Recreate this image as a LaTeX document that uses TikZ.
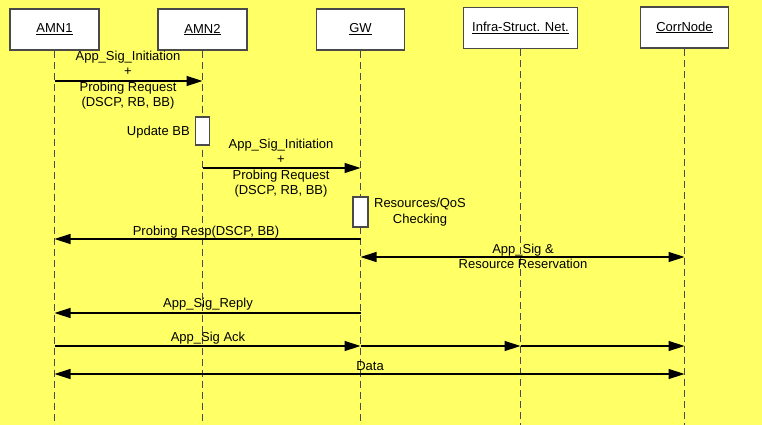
\documentclass[tikz,border=0pt]{standalone}
\usepackage{fontspec}
\setmainfont{Liberation Sans}
\usetikzlibrary{arrows.meta}
\definecolor{bgyellow}{HTML}{FFFF66}
\definecolor{framegray}{HTML}{4A4A4A}
\begin{document}
\begin{tikzpicture}[x=1pt,y=-1pt,
  font=\fontsize{13}{15.5}\selectfont,
  actor/.style={draw=framegray, line width=1.3pt, fill=white, minimum height=41pt, inner sep=0pt},
  lifeline/.style={draw=framegray, line width=1pt, dash pattern=on 7pt off 4pt},
  actbox/.style={draw=framegray, line width=1.2pt, fill=white, inner sep=0pt},
  msg/.style={draw=black, line width=1.4pt, -{Triangle[length=16pt,width=10pt]}},
  dmsg/.style={draw=black, line width=1.4pt, {Triangle[length=16pt,width=10pt]}-{Triangle[length=16pt,width=10pt]}},
  lbl/.style={inner sep=0pt, align=center}]
% background
\fill[bgyellow] (0,0) rectangle (762,425);
\useasboundingbox (0,0) rectangle (762,425);

% participants
\node[actor, minimum width=89pt]  (amn1)  at (54.5,29.5) {\underline{AMN1}};
\node[actor, minimum width=89pt]  (amn2)  at (202.5,29.5) {\underline{AMN2}};
\node[actor, minimum width=88pt]  (gw)    at (360.5,29.5) {\underline{GW}};
\node[actor, minimum width=114pt] (infra) at (520.5,28) {\underline{Infra-Struct. Net.}};
\node[actor, minimum width=88pt]  (corr)  at (684.5,27.5) {\underline{CorrNode}};

% lifelines
\coordinate (bottom) at (0,425);
\foreach \p in {amn1,amn2,gw,infra,corr}
  \draw[lifeline] (\p.south) -- (\p.south |- bottom);

% message rows
\coordinate (r1) at (0,81);
\coordinate (r2) at (0,168);
\coordinate (r3) at (0,239);
\coordinate (r4) at (0,257);
\coordinate (r5) at (0,313);
\coordinate (r6) at (0,346);
\coordinate (r7) at (0,374);

% activation boxes
\node[actbox, minimum width=14pt, minimum height=28pt] (upd) at (202.5,131) {};
\node[anchor=east, inner sep=0pt] (updl) at (190,132) {Update BB};
\node[actbox, minimum width=15pt, minimum height=30pt] (chk) at (360.5,212) {};
\node[lbl] (chkl) at (420,212) {Resources/QoS\\Checking};

% messages
\draw[msg] (amn1 |- r1) -- (amn2 |- r1);
\node[lbl] (m1) at (128,80) {App\_Sig\_Initiation\\+\\Probing Request\\(DSCP, RB, BB)};

\draw[msg] (amn2 |- r2) -- (gw |- r2);
\node[lbl] (m2) at (281,168) {App\_Sig\_Initiation\\+\\Probing Request\\(DSCP, RB, BB)};

\draw[msg] (gw |- r3) -- (amn1 |- r3);
\node[lbl] (m3) at (206,232) {Probing Resp(DSCP, BB)};

\draw[dmsg] (gw |- r4) -- (corr |- r4);
\node[lbl] (m4) at (523,256.5) {App\_Sig \&\\Resource Reservation};

\draw[msg] (gw |- r5) -- (amn1 |- r5);
\node[lbl] (m5) at (208,304) {App\_Sig\_Reply};

\draw[msg] (amn1 |- r6) -- (gw |- r6);
\draw[msg] (gw |- r6) -- (infra |- r6);
\draw[msg] (infra |- r6) -- (corr |- r6);
\node[lbl] (m6) at (208,338) {App\_Sig Ack};

\draw[dmsg] (amn1 |- r7) -- (corr |- r7);
\node[lbl] (m7) at (370,366) {Data};
\end{tikzpicture}
\end{document}
